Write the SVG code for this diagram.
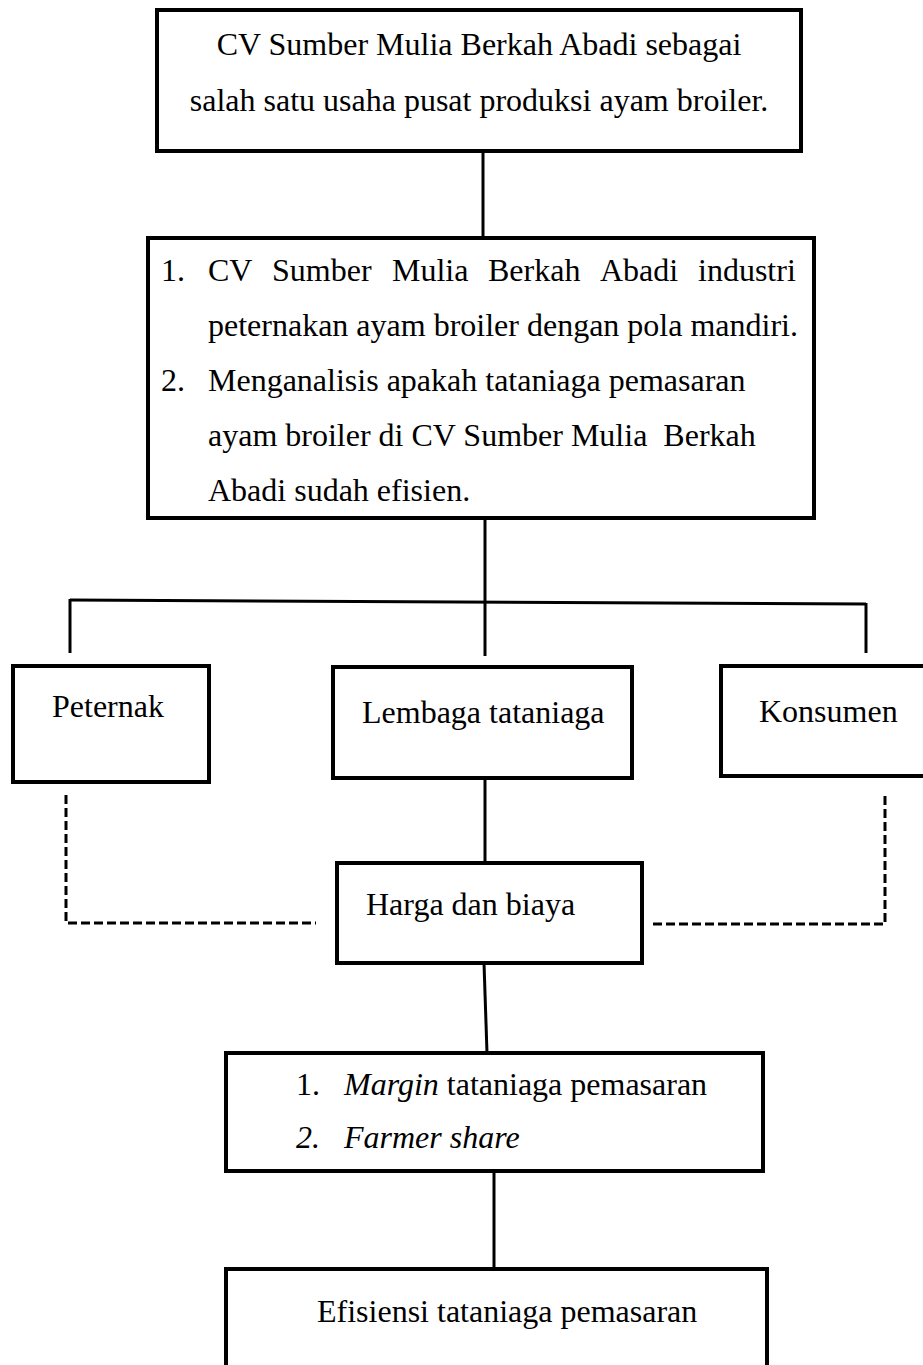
<svg xmlns="http://www.w3.org/2000/svg" width="923" height="1365" viewBox="0 0 923 1365">
<style>
.box{fill:#fff;stroke:#000;stroke-width:4}
.ln{fill:none;stroke:#000;stroke-width:3}
.dash{stroke-dasharray:9 4}
text{font-family:"Liberation Serif","Times New Roman",serif;font-size:32px;fill:#000}
.it{font-style:italic}
.pre{white-space:pre}
</style>
<rect width="923" height="1365" fill="#fff"/>
<g id="connectors">
<line class="ln" x1="483" y1="151" x2="483" y2="238"/>
<line class="ln" x1="485" y1="518" x2="485" y2="656"/>
<line class="ln" x1="70" y1="600" x2="866" y2="604"/>
<line class="ln" x1="70" y1="599" x2="70" y2="653"/>
<line class="ln" x1="866" y1="603" x2="866" y2="653"/>
<line class="ln" x1="485" y1="778" x2="485" y2="863"/>
<line class="ln" x1="484" y1="963" x2="487" y2="1053"/>
<line class="ln" x1="494" y1="1171" x2="494" y2="1269"/>
<polyline class="ln dash" points="66,795 66,923 316,923"/>
<polyline class="ln dash" points="653,924 885,924 885,792"/>
</g>
<g id="node-top">
<rect class="box" x="157" y="10" width="644" height="141"/>
<text x="479" y="55" text-anchor="middle">CV Sumber Mulia Berkah Abadi sebagai</text>
<text x="479" y="111" text-anchor="middle">salah satu usaha pusat produksi ayam broiler.</text>
</g>
<g id="node-tujuan">
<rect class="box" x="148" y="238" width="666" height="280"/>
<text y="281"><tspan x="161">1.</tspan><tspan x="208">CV</tspan><tspan x="272">Sumber</tspan><tspan x="392">Mulia</tspan><tspan x="488">Berkah</tspan><tspan x="600">Abadi</tspan><tspan x="698">industri</tspan></text>
<text x="208" y="336">peternakan ayam broiler dengan pola mandiri.</text>
<text y="391"><tspan x="161">2.</tspan><tspan x="208">Menganalisis apakah tataniaga pemasaran</tspan></text>
<text class="pre" x="208" y="446">ayam broiler di CV Sumber Mulia  Berkah</text>
<text x="208" y="501">Abadi sudah efisien.</text>
</g>
<g id="node-peternak">
<rect class="box" x="13" y="666" width="196" height="116"/>
<text x="52" y="717">Peternak</text>
</g>
<g id="node-lembaga">
<rect class="box" x="333" y="667" width="299" height="111"/>
<text x="362" y="723">Lembaga tataniaga</text>
</g>
<g id="node-konsumen">
<rect class="box" x="721" y="666" width="210" height="110"/>
<text x="759" y="722">Konsumen</text>
</g>
<g id="node-harga">
<rect class="box" x="337" y="863" width="305" height="100"/>
<text x="366" y="915">Harga dan biaya</text>
</g>
<g id="node-margin">
<rect class="box" x="226" y="1053" width="537" height="118"/>
<text y="1095"><tspan x="296">1.</tspan><tspan x="344" class="it">Margin</tspan><tspan> tataniaga pemasaran</tspan></text>
<text y="1148" class="it"><tspan x="296">2.</tspan><tspan x="344">Farmer share</tspan></text>
</g>
<g id="node-efisiensi">
<rect class="box" x="226" y="1269" width="541" height="120"/>
<text x="317" y="1322">Efisiensi tataniaga pemasaran</text>
</g>
</svg>
